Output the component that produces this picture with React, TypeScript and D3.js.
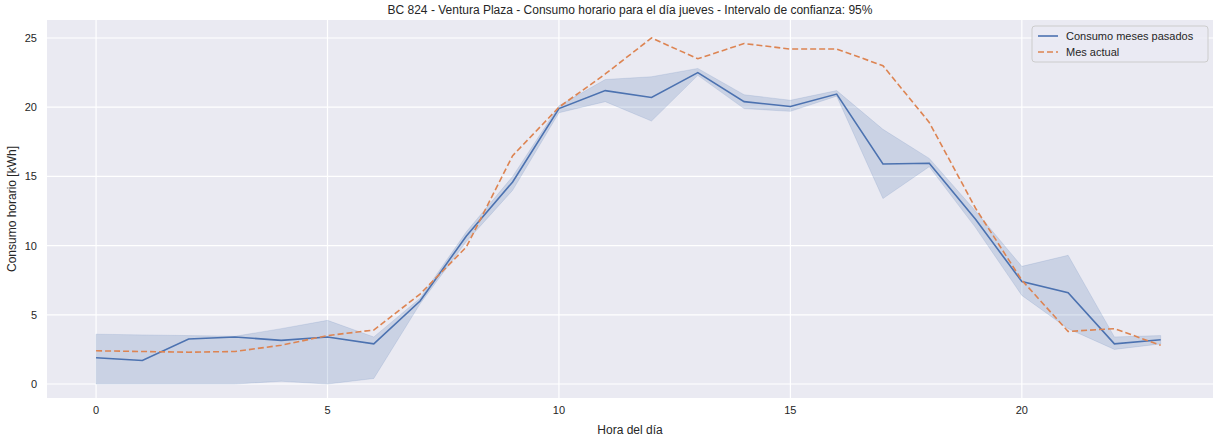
import React from "react";
import { scaleLinear, line, area } from "d3";

const hours = [0, 1, 2, 3, 4, 5, 6, 7, 8, 9, 10, 11, 12, 13, 14, 15, 16, 17, 18, 19, 20, 21, 22, 23];
const pastMean = [1.9, 1.7, 3.25, 3.4, 3.15, 3.4, 2.9, 6.0, 10.7, 14.6, 19.9, 21.2, 20.7, 22.5, 20.4, 20.05, 20.95, 15.9, 15.95, 11.9, 7.4, 6.6, 2.9, 3.2];
const pastUpper = [3.6, 3.55, 3.5, 3.45, 4.0, 4.6, 3.4, 6.2, 11.0, 15.0, 20.1, 22.0, 22.2, 22.8, 20.9, 20.5, 21.2, 18.4, 16.3, 12.5, 8.5, 9.3, 3.4, 3.5];
const pastLower = [0, 0, 0, 0, 0.2, 0, 0.4, 5.8, 10.3, 14.0, 19.6, 20.4, 19.0, 22.3, 19.9, 19.7, 20.8, 13.4, 15.7, 11.3, 6.4, 4.0, 2.5, 2.9];
const current = [2.4, 2.35, 2.3, 2.35, 2.8, 3.5, 3.9, 6.5, 9.9, 16.5, 20.0, 22.4, 25.0, 23.5, 24.6, 24.2, 24.2, 23.0, 18.9, 12.7, 7.5, 3.8, 4.0, 2.8];
const xTicks = [0, 5, 10, 15, 20];
const yTicks = [0, 5, 10, 15, 20, 25];

const W = 1221, H = 442;
const L = 47, R = 1213, T = 20, B = 398;
const font = "'Liberation Sans', Arial, sans-serif";

export default function App() {
  const x = scaleLinear().domain([-1.06, 24.13]).range([L, R]);
  const y = scaleLinear().domain([-1.01, 26.3]).range([B, T]);
  const mk = (vals: number[]) => line<number>().x((_, i) => x(hours[i])).y((d) => y(d))(vals)!;
  const band = area<number>().x((_, i) => x(hours[i])).y0((_, i) => y(pastLower[i])).y1((d) => y(d))(pastUpper)!;

  return (
    <div style={{ position: "fixed", left: 0, top: 0, width: W, height: H, background: "#fff" }}>
      <svg width={W} height={H} style={{ display: "block", fontFamily: font }}>
        <rect x={L} y={T} width={R - L} height={B - T} fill="#eaeaf2" />
        {xTicks.map((t) => (
          <line key={"gx" + t} x1={x(t)} x2={x(t)} y1={T} y2={B} stroke="#fff" strokeWidth={1.2} />
        ))}
        {yTicks.map((t) => (
          <line key={"gy" + t} x1={L} x2={R} y1={y(t)} y2={y(t)} stroke="#fff" strokeWidth={1.2} />
        ))}
        <path d={band} fill="#4c72b0" fillOpacity={0.2} stroke="#4c72b0" strokeOpacity={0.15} />
        <path d={mk(pastMean)} fill="none" stroke="#4c72b0" strokeWidth={1.6} />
        <path d={mk(current)} fill="none" stroke="#dd8452" strokeWidth={1.6} strokeDasharray="6,3" />
        {xTicks.map((t) => (
          <text key={"tx" + t} x={x(t)} y={B + 16} fontSize={11} fill="#262626" textAnchor="middle">{t}</text>
        ))}
        {yTicks.map((t) => (
          <text key={"ty" + t} x={L - 10} y={y(t) + 4} fontSize={11} fill="#262626" textAnchor="end">{t}</text>
        ))}
        <text x={(L + R) / 2} y={434} fontSize={12} fill="#262626" textAnchor="middle">Hora del día</text>
        <text transform={`translate(16,${(T + B) / 2}) rotate(-90)`} fontSize={12} fill="#262626" textAnchor="middle">Consumo horario [kWh]</text>
        <text x={(L + R) / 2} y={14} fontSize={12} fill="#262626" textAnchor="middle">BC 824 - Ventura Plaza - Consumo horario para el día jueves - Intervalo de confianza: 95%</text>
        <g transform="translate(1032,26)">
          <rect width={176} height={36} rx={3} fill="#eaeaf2" fillOpacity={0.8} stroke="#cccccc" />
          <line x1={6} x2={26} y1={10} y2={10} stroke="#4c72b0" strokeWidth={1.6} />
          <text x={34} y={14} fontSize={11} fill="#262626">Consumo meses pasados</text>
          <line x1={6} x2={26} y1={26} y2={26} stroke="#dd8452" strokeWidth={1.6} strokeDasharray="6,3" />
          <text x={34} y={30} fontSize={11} fill="#262626">Mes actual</text>
        </g>
      </svg>
    </div>
  );
}
